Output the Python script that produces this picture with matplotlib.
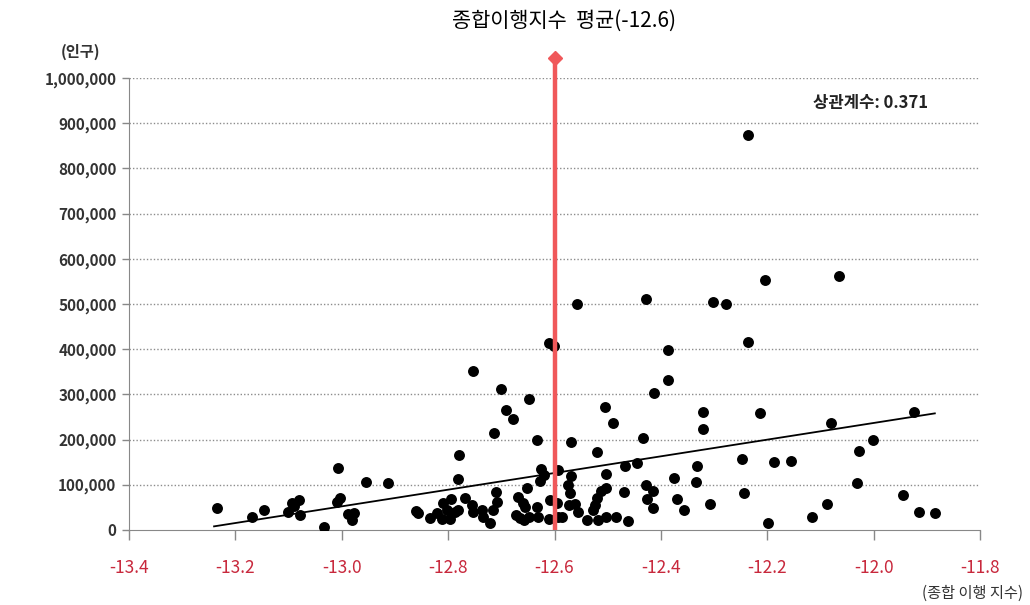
import matplotlib
matplotlib.use("Agg")
import matplotlib.pyplot as plt
from matplotlib.ticker import FuncFormatter

plt.rcParams["font.family"] = ["Noto Sans CJK KR", "DejaVu Sans"]

# composite implementation index (x) vs population (y)
index_vals = [
    -13.235, -13.169, -13.146, -13.101, -13.094, -13.090, -13.080, -13.079, -13.033, -13.007,
    -13.009, -13.003, -12.988, -12.981, -12.977, -12.955, -12.913,
    -12.861, -12.857, -12.834, -12.821, -12.810, -12.812, -12.802, -12.795, -12.797, -12.787,
    -12.782, -12.780, -12.782, -12.768, -12.755, -12.753, -12.753, -12.736, -12.735, -12.721,
    -12.716, -12.710, -12.708, -12.714, -12.701, -12.691, -12.678, -12.648,
    -12.652, -12.669, -12.659, -12.656, -12.673, -12.665, -12.658, -12.648,
    -12.633, -12.626, -12.620, -12.627, -12.611, -12.601, -12.609, -12.596, -12.633, -12.631,
    -12.611, -12.594, -12.586, -12.594,
    -12.569, -12.569, -12.575, -12.571, -12.573, -12.562, -12.556, -12.539, -12.518, -12.528,
    -12.524, -12.520, -12.520, -12.558,
    -12.513, -12.503, -12.503, -12.485, -12.462, -12.470, -12.468, -12.503, -12.505, -12.490,
    -12.445, -12.434, -12.428, -12.426, -12.415, -12.415, -12.376, -12.370, -12.357, -12.332,
    -12.334, -12.308, -12.321, -12.321, -12.428, -12.387, -12.387, -12.413, -12.302,
    -12.278, -12.236, -12.236, -12.205, -12.065, -12.214, -12.080, -11.924, -12.002, -12.028,
    -12.032, -11.945, -11.915, -11.885, -12.248, -12.188, -12.156, -12.244, -12.199, -12.116,
    -12.088,
]
population = [
    49000, 29000, 44000, 40000, 60000, 53000, 66000, 33000, 7000, 137000,
    62000, 71000, 35000, 22000, 38000, 106000, 104000,
    42000, 38000, 27000, 38000, 60000, 24000, 44000, 69000, 24000, 40000,
    44000, 166000, 113000, 71000, 55000, 40000, 352000, 44000, 29000, 15000,
    44000, 84000, 62000, 215000, 312000, 265000, 246000, 290000,
    93000, 73000, 60000, 51000, 33000, 27000, 22000, 29000,
    199000, 135000, 122000, 108000, 414000, 407000, 66000, 60000, 51000, 29000,
    24000, 29000, 29000, 133000,
    195000, 119000, 100000, 82000, 55000, 58000, 40000, 22000, 22000, 44000,
    55000, 71000, 173000, 500000,
    86000, 93000, 29000, 29000, 20000, 84000, 142000, 124000, 272000, 237000,
    148000, 204000, 100000, 69000, 86000, 49000, 115000, 69000, 44000, 142000,
    106000, 58000, 261000, 223000, 511000, 398000, 332000, 303000, 504000,
    500000, 874000, 416000, 553000, 562000, 259000, 237000, 261000, 199000, 175000,
    104000, 77000, 40000, 38000, 157000, 150000, 153000, 82000, 15000, 29000,
    58000,
]

trend_x = [-13.24, -11.885]
trend_y = [8000, 258000]

mean_index = -12.6
mean_top = 1045000

x_ticks = [-13.4, -13.2, -13.0, -12.8, -12.6, -12.4, -12.2, -12.0, -11.8]
y_ticks = [0, 100000, 200000, 300000, 400000, 500000, 600000, 700000, 800000, 900000, 1000000]

fig = plt.figure(figsize=(10.3, 6.05), dpi=100)
ax = fig.add_axes([0.1252, 0.124, 0.8263, 0.747])

ax.set_xlim(-13.4, -11.8)
ax.set_ylim(0, 1000000)

for yv in y_ticks[1:]:
    ax.axhline(yv, color="#8c8c8c", lw=1.0, ls=(0, (1, 1.5)), zorder=1)

ax.plot(trend_x, trend_y, color="black", lw=1.3, zorder=3)
ax.scatter(index_vals, population, s=62, color="black", zorder=4, linewidths=0)

ax.plot([mean_index, mean_index], [0, mean_top], color="#f0585a", lw=3.2,
        clip_on=False, zorder=5, solid_capstyle="butt")
ax.plot([mean_index], [mean_top], marker="D", color="#f0585a", ms=7,
        clip_on=False, zorder=6)

ax.spines["top"].set_visible(False)
ax.spines["right"].set_visible(False)
ax.spines["left"].set_color("#888888")
ax.spines["bottom"].set_color("#888888")

ax.set_xticks(x_ticks)
ax.set_yticks(y_ticks)
ax.xaxis.set_major_formatter(FuncFormatter(lambda v, p: f"{v:.1f}"))
ax.yaxis.set_major_formatter(FuncFormatter(lambda v, p: f"{int(v):,}"))
ax.tick_params(axis="x", direction="out", length=7, width=1, color="#888888",
               labelcolor="#c8283c", labelsize=12.5, pad=14)
ax.tick_params(axis="y", direction="out", length=5, width=1, color="#888888",
               labelcolor="#333333", labelsize=11, pad=4)
for lab in ax.get_yticklabels():
    lab.set_fontweight("bold")

fig.text(0.548, 0.965, "종합이행지수  평균(-12.6)", ha="center", va="center",
         fontsize=15, color="black")
fig.text(0.078, 0.914, "(인구)", ha="center", va="center", fontsize=11,
         color="#333333", fontweight="bold")
fig.text(0.845, 0.830, "상관계수: 0.371", ha="center", va="center", fontsize=12,
         color="#222222", fontweight="bold")
fig.text(0.993, 0.020, "(종합 이행 지수)", ha="right", va="center", fontsize=11,
         color="#333333")

fig.savefig("out.png", dpi=100)
